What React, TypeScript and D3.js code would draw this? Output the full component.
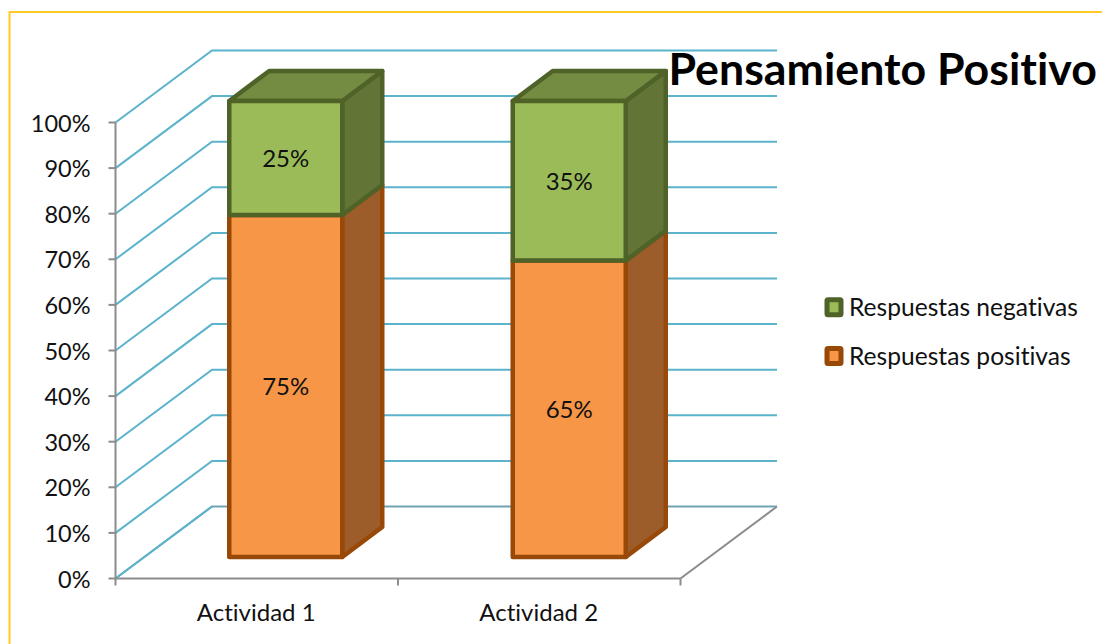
import React from "react";
import * as d3 from "d3";

const categories = ["Actividad 1", "Actividad 2"];
const positivas = [75, 65];
const negativas = [25, 35];
const percentTicks = [0, 10, 20, 30, 40, 50, 60, 70, 80, 90, 100];
const legendItems = [
  { label: "Respuestas negativas", fill: "#9BBB59", stroke: "#4F6228" },
  { label: "Respuestas positivas", fill: "#F79646", stroke: "#984807" },
];

const FONT = "Lato, 'Open Sans', sans-serif";
const GRID = "#5BB3CC";
const AXIS = "#8C8C8C";

const y = d3.scaleLinear().domain([0, 100]).range([578.5, 122.5]);
const x = d3.scaleBand().domain(categories).range([115.5, 680.5]);
const wall = { dx: 96.5, dy: -72 };
const depth = { dx: 40, dy: -30 };
const barShift = { dx: 29.5, dy: -21.5 };
const barW = 113;

const poly = (pts: [number, number][]) => d3.line()(pts)! + "Z";

function Segment({ x0, v0, v1, front, side, top, stroke, showTop }: any) {
  const x1 = x0 + barW;
  const yb = y(v0) + barShift.dy;
  const yt = y(v1) + barShift.dy;
  return (
    <g stroke={stroke} strokeWidth={4.5} strokeLinejoin="round">
      <path d={poly([[x1, yb], [x1 + depth.dx, yb + depth.dy], [x1 + depth.dx, yt + depth.dy], [x1, yt]])} fill={side} />
      {showTop && (
        <path d={poly([[x0, yt], [x0 + depth.dx, yt + depth.dy], [x1 + depth.dx, yt + depth.dy], [x1, yt]])} fill={top} />
      )}
      <rect x={x0} y={yt} width={barW} height={yb - yt} fill={front} />
    </g>
  );
}

export default function App() {
  return (
    <svg
      width={1102}
      height={644}
      style={{ position: "absolute", left: 0, top: 0, background: "#fff", fontVariantLigatures: "none" }}
      fontFamily={FONT}
    >
      <path d="M9.5 644V12H1102" fill="none" stroke="#FFC000" strokeWidth={2} opacity={0.85} />

      {percentTicks.map((t) => (
        <path
          key={t}
          d={d3.line()([
            [x.range()[0], y(t)],
            [x.range()[0] + wall.dx, y(t) + wall.dy],
            [x.range()[1] + wall.dx, y(t) + wall.dy],
          ])!}
          fill="none"
          stroke={t === 0 ? "#6FA3B3" : GRID}
          strokeWidth={2}
        />
      ))}

      {/* floor */}
      <path
        d={d3.line()([
          [x.range()[1], y(0)],
          [x.range()[1] + wall.dx, y(0) + wall.dy],
        ])!}
        stroke={AXIS}
        strokeWidth={2}
        fill="none"
      />
      <path d={d3.line()([[x.range()[0], y(0)], [x.range()[0] + wall.dx, y(0) + wall.dy]])!} stroke={GRID} strokeWidth={2} fill="none" />
      <path d={d3.line()([[x.range()[0], y(0)], [x.range()[1], y(0)]])!} stroke={AXIS} strokeWidth={2} fill="none" />
      <path d={d3.line()([[x.range()[0], y(0)], [x.range()[0], y(100)]])!} stroke={AXIS} strokeWidth={2} fill="none" />

      {percentTicks.map((t) => (
        <g key={t}>
          <path d={`M${x.range()[0] - 7} ${y(t)}H${x.range()[0]}`} stroke={AXIS} strokeWidth={2} />
          <text x={90.5} y={y(t) + 9} textAnchor="end" fontSize={23.5} fill="#111">
            {t}%
          </text>
        </g>
      ))}

      {[x.range()[0], x.range()[0] + x.step(), x.range()[1]].map((px) => (
        <path key={px} d={`M${px} ${y(0)}v7`} stroke={AXIS} strokeWidth={2} />
      ))}

      {categories.map((c, i) => {
        const x0 = x(c)! + (x.step() - barW) / 2 + barShift.dx - 0.5 + i;
        const cx = x0 + barW / 2;
        return (
          <g key={c}>
            <Segment x0={x0} v0={0} v1={positivas[i]} front="#F79646" side="#9C5D2B" top="#9C5D2B" stroke="#984807" />
            <Segment x0={x0} v0={positivas[i]} v1={100} front="#9BBB59" side="#627536" top="#748C42" stroke="#4F6228" showTop />
            <text x={cx} y={y(positivas[i] / 2) + barShift.dy + 9} textAnchor="middle" fontSize={24} fill="#111">
              {positivas[i]}%
            </text>
            <text x={cx} y={y(positivas[i] + negativas[i] / 2) + barShift.dy + 9} textAnchor="middle" fontSize={24} fill="#111">
              {negativas[i]}%
            </text>
            <text x={x(c)! + x.step() / 2 - 0.5} y={621} textAnchor="middle" fontSize={24} fill="#111">
              {c}
            </text>
          </g>
        );
      })}

      <text x={668.5} y={85} fontSize={44.7} fontWeight={700} fill="#000">
        Pensamiento Positivo
      </text>

      {legendItems.map((d, i) => (
        <g key={d.label}>
          <rect x={827} y={299.8 + i * 48.7} width={14} height={15} rx={1} fill={d.fill} stroke={d.stroke} strokeWidth={5} />
          <text x={849} y={316 + i * 49} fontSize={24.6} fill="#111">
            {d.label}
          </text>
        </g>
      ))}
    </svg>
  );
}
